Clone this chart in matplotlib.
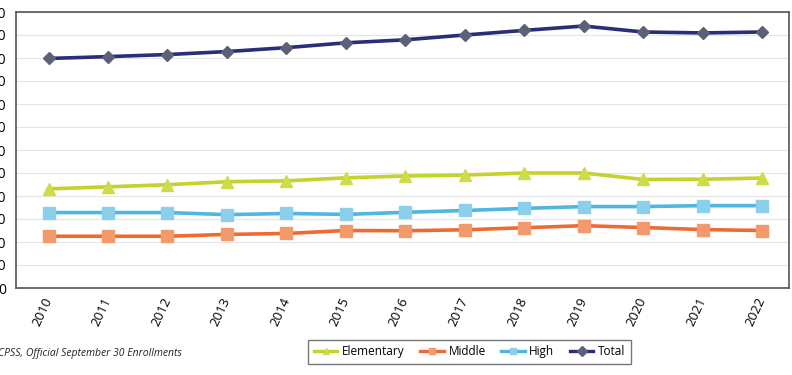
import matplotlib
matplotlib.use("Agg")
import matplotlib.pyplot as plt
from matplotlib.lines import Line2D

years = [2010, 2011, 2012, 2013, 2014, 2015, 2016, 2017, 2018, 2019, 2020, 2021, 2022]
elementary = [4310, 4400, 4490, 4620, 4660, 4790, 4870, 4910, 5000, 5000, 4720, 4730, 4780]
middle = [2250, 2250, 2250, 2330, 2370, 2500, 2490, 2530, 2620, 2710, 2630, 2540, 2500]
high = [3280, 3280, 3280, 3190, 3240, 3200, 3290, 3370, 3460, 3540, 3540, 3580, 3580]
total = [9980, 10060, 10150, 10280, 10450, 10660, 10790, 11000, 11200, 11390, 11130, 11090, 11130]
yticks = list(range(0, 12001, 1000))

plt.rcParams['font.family'] = ['Open Sans', 'DejaVu Sans']

fig = plt.figure(figsize=(7.92, 3.75), dpi=100)
ax = fig.add_axes([0.020, 0.232, 0.976, 0.736])

series = [
    ("Elementary", elementary, "#c3d22c", "#cfdc4a", "^"),
    ("Middle", middle, "#ee6a30", "#f39a6c", "s"),
    ("High", high, "#4fb6df", "#8ccfea", "s"),
    ("Total", total, "#2a2e78", "#5c6178", "D"),
]
handles = []
for name, vals, lc, mc, mk in series:
    ax.plot(years, vals, color=lc, lw=2.6, marker=mk, markersize=8 if mk != "D" else 6.5,
            markerfacecolor=mc, markeredgecolor=mc, zorder=3)
    handles.append(Line2D([], [], color=lc, lw=2.4, marker=mk, markersize=5,
                          markerfacecolor=mc, markeredgecolor=mc))

ax.set_xlim(2009.45, 2022.45)
ax.set_ylim(0, 12000)
ax.set_yticks(yticks)
ax.set_yticklabels([f"{v:,}" for v in yticks], fontsize=10)
ax.set_xticks(years)
ax.set_xticklabels([str(y) for y in years], rotation=65, fontsize=9.5,
                   rotation_mode="anchor", ha="right", va="center")
ax.tick_params(axis="x", length=0, pad=7)
ax.tick_params(axis="y", length=0, pad=7)
ax.grid(axis="y", color="#e4e4e4", lw=0.8)
ax.set_axisbelow(True)
for s in ax.spines.values():
    s.set_color("#555555")
    s.set_linewidth(1.2)

leg = fig.legend(handles, [s[0] for s in series], loc="center",
                 bbox_to_anchor=(0.593, 0.062), ncol=4, fontsize=8.5, frameon=True,
                 fancybox=False, edgecolor="#555555", handlelength=2.0,
                 columnspacing=1.3, handletextpad=0.4, borderpad=0.45)
leg.get_frame().set_linewidth(1.0)

fig.text(-0.003, 0.058, "CPSS, Official September 30 Enrollments", fontsize=7.5,
         style="italic", ha="left", va="center", color="#222222")

fig.savefig("out.png", dpi=100)
